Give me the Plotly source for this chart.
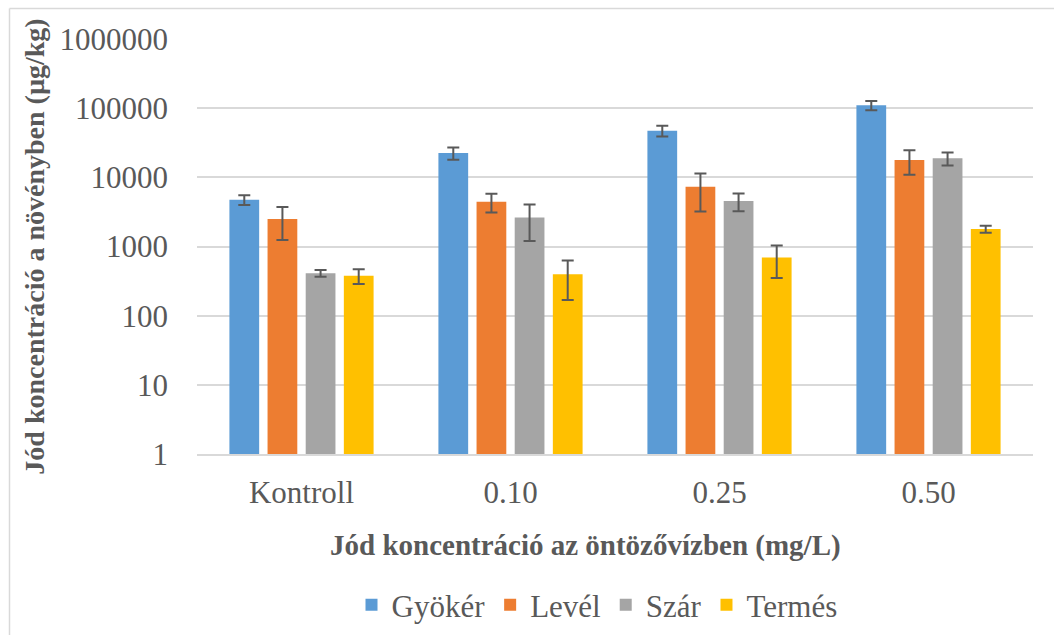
import plotly.graph_objects as go

# Iodine concentration in plant organs by irrigation-water iodine level
categories = ["Kontroll", "0.10", "0.25", "0.50"]
series_names = ["Gyökér", "Levél", "Szár", "Termés"]

gyoker = [4740, 22500, 47200, 110000]
gyoker_err = [750, 4500, 8300, 16700]

level = [2490, 4440, 7300, 17800]
level_err = [1250, 1350, 4100, 6900]

szar = [412, 2630, 4540, 18800]
szar_err = [47, 1430, 1320, 4000]

termes = [377, 398, 693, 1790]
termes_err = [90, 230, 343, 210]

colors = ["#5b9bd5", "#ed7d31", "#a5a5a5", "#ffc000"]
values = [gyoker, level, szar, termes]
errors = [gyoker_err, level_err, szar_err, termes_err]

tick_vals = [1, 10, 100, 1000, 10000, 100000, 1000000]
tick_text = ["1", "10", "100", "1000", "10000", "100000", "1000000"]

x_title = "Jód koncentráció az öntözővízben (mg/L)"
y_title = "Jód koncentráció a növényben (µg/kg)"

text_col = "#595959"
grid_col = "#d9d9d9"
serif = "Liberation Serif"

fig = go.Figure()
for name, vals, errs, col in zip(series_names, values, errors, colors):
    fig.add_trace(go.Bar(
        x=categories, y=vals, name=name,
        marker=dict(color=col, line=dict(width=0)),
        error_y=dict(type="data", array=errs, visible=True,
                     color=text_col, thickness=2, width=6),
    ))

W, H = 1054, 635
ml, mr, mt, mb = 197, 21, 39, 181
pw, ph = W - ml - mr, H - mt - mb

def px_x(x):
    return (x - ml) / pw

def px_y(y):
    return (H - mb - y) / ph

# outer chart frame (left and top edges)
fig.add_shape(type="line", xref="paper", yref="paper",
              x0=px_x(9.5), x1=px_x(1060), y0=px_y(8.5), y1=px_y(8.5),
              line=dict(color=grid_col, width=1.5))
fig.add_shape(type="line", xref="paper", yref="paper",
              x0=px_x(9.5), x1=px_x(9.5), y0=px_y(8.5), y1=px_y(640),
              line=dict(color=grid_col, width=1.5))

# horizontal axis title, centred on the chart area
fig.add_annotation(text="<b>" + x_title + "</b>", xref="paper", yref="paper",
                   x=px_x(585), y=px_y(545), xanchor="center", yanchor="middle",
                   showarrow=False,
                   font=dict(family=serif, size=29, color=text_col))

fig.update_layout(
    width=W, height=H,
    margin=dict(l=ml, r=mr, t=mt, b=mb, autoexpand=False),
    paper_bgcolor="white", plot_bgcolor="white",
    barmode="group", bargap=0.27, bargroupgap=0.22,
    font=dict(family=serif, color=text_col, size=30),
    showlegend=True,
    legend=dict(orientation="h", x=px_x(597), xanchor="center",
                y=px_y(605), yanchor="middle",
                font=dict(family=serif, size=31, color=text_col),
                itemwidth=30, traceorder="normal"),
    xaxis=dict(
        showgrid=False, showline=True, linecolor=grid_col, linewidth=1.5,
        ticks="", tickfont=dict(family=serif, size=31, color=text_col),
        ticklabelstandoff=10,
    ),
    yaxis=dict(
        type="log", range=[0, 6],
        tickvals=tick_vals, ticktext=tick_text,
        showgrid=True, gridcolor=grid_col, gridwidth=1.5,
        showline=False, zeroline=False, ticks="",
        tickfont=dict(family=serif, size=31, color=text_col),
        ticklabelstandoff=28,
        title=dict(text="<b>" + y_title + "</b>",
                   font=dict(family=serif, size=28, color=text_col), standoff=6),
    ),
)

fig.write_html("out.html")
